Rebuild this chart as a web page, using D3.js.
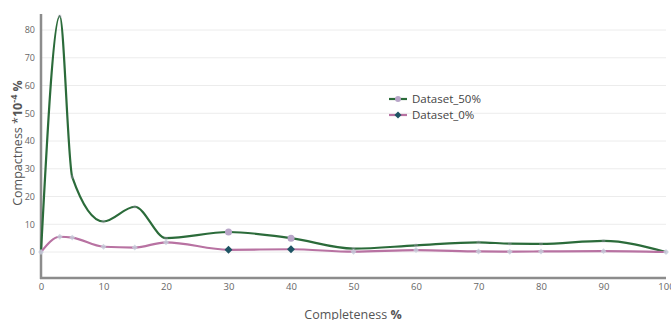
<!DOCTYPE html>
<html><head><meta charset="utf-8">
<script src="https://cdn.jsdelivr.net/npm/d3@7"></script>
<style>
html,body{margin:0;padding:0;background:#fff;}
svg{display:block;font-family:"Open Sans",sans-serif;}
</style></head>
<body>
<script>
const completeness = [0, 3, 5, 10, 15, 20, 30, 40, 50, 60, 70, 75, 80, 90, 100];
const dataset50 = [0, 85, 27, 11, 16.3, 5.0, 7.2, 5.0, 1.2, 2.4, 3.5, 3.0, 2.9, 4.0, 0];
const dataset0 = [0, 5.5, 5.2, 1.9, 1.6, 3.5, 0.8, 1.0, 0.1, 0.7, 0.2, 0.1, 0.2, 0.3, 0];
const highlighted = [30, 40];
const xTicks = [0, 10, 20, 30, 40, 50, 60, 70, 80, 90, 100];
const yTicks = [0, 10, 20, 30, 40, 50, 60, 70, 80];
const seriesNames = ["Dataset_50%", "Dataset_0%"];

const W = 671, H = 320;
const svg = d3.select("body").append("svg").attr("width", W).attr("height", H);

const x = d3.scaleLinear().domain([0, 100]).range([41, 666]);
const y = d3.scaleLinear().domain([0, 80]).range([252, 30]);
const yBottom = y(-9.4), yTop = y(85.8);

// grid
svg.append("g").selectAll("line").data(yTicks).join("line")
  .attr("x1", x(0)).attr("x2", x(100))
  .attr("y1", d => y(d)).attr("y2", d => y(d))
  .attr("stroke", "#ececec").attr("stroke-width", 1);

// y axis
const yAxis = svg.append("g").attr("transform", `translate(${x(0)},0)`)
  .call(d3.axisLeft(y).tickValues(yTicks).tickSize(0).tickPadding(6));
yAxis.select(".domain").remove();
yAxis.selectAll("text").attr("fill", "#666").style("font-size", "9px").style("font-family", "Open Sans");
svg.append("line").attr("x1", x(0)).attr("x2", x(0)).attr("y1", yTop).attr("y2", yBottom + 1)
  .attr("stroke", "#8c8c8c").attr("stroke-width", 2.5);

// x axis
const xAxis = svg.append("g").attr("transform", `translate(0,${yBottom})`)
  .call(d3.axisBottom(x).tickValues(xTicks).tickSize(0).tickPadding(5));
xAxis.select(".domain").remove();
xAxis.selectAll("text").attr("fill", "#666").style("font-size", "9.5px").style("font-family", "Open Sans");
svg.append("line").attr("x1", x(0) - 1).attr("x2", x(100)).attr("y1", yBottom).attr("y2", yBottom)
  .attr("stroke", "#8c8c8c").attr("stroke-width", 2.5);

// axis titles
const yt = svg.append("text").attr("transform", `translate(22,143) rotate(-90)`)
  .attr("text-anchor", "middle").attr("fill", "#555").style("font-size", "12.5px");
yt.append("tspan").text("Compactness *");
yt.append("tspan").attr("font-weight", "bold").text("10");
yt.append("tspan").attr("font-weight", "bold").attr("dy", -5).style("font-size", "9px").text("-4");
yt.append("tspan").attr("font-weight", "bold").attr("dy", 5).text(" %");

const xt = svg.append("text").attr("x", 353).attr("y", 319)
  .attr("text-anchor", "middle").attr("fill", "#555").style("font-size", "12.5px");
xt.append("tspan").text("Completeness ");
xt.append("tspan").attr("font-weight", "bold").text("%");

const line = d3.line().x(d => x(d[0])).y(d => y(d[1])).curve(d3.curveMonotoneX);
const d50 = completeness.map((c, i) => [c, dataset50[i]]);
const d0 = completeness.map((c, i) => [c, dataset0[i]]);

const green = "#2b6b3a", pink = "#b872a2";
svg.append("path").datum(d50).attr("d", line).attr("fill", "none").attr("stroke", green).attr("stroke-width", 2.2);
svg.append("path").datum(d0).attr("d", line).attr("fill", "none").attr("stroke", pink).attr("stroke-width", 2.2);

// markers
svg.append("g").selectAll("circle").data(d50).join("circle")
  .attr("cx", d => x(d[0])).attr("cy", d => y(d[1]))
  .attr("r", d => highlighted.includes(d[0]) ? 3.5 : 2)
  .attr("fill", "#b8a5c8")
  .attr("opacity", d => highlighted.includes(d[0]) ? 1 : 0.3);
const diamond = d3.symbol().type(d3.symbolDiamond2);
svg.append("g").selectAll("path").data(d0).join("path")
  .attr("transform", d => `translate(${x(d[0])},${y(d[1])})`)
  .attr("d", d => diamond.size(highlighted.includes(d[0]) ? 40 : 22)())
  .attr("fill", d => highlighted.includes(d[0]) ? "#1e5464" : "#c6cddb")
  .attr("opacity", d => highlighted.includes(d[0]) ? 1 : 0.8);

// legend
const legend = svg.append("g").attr("transform", "translate(389,99)");
const items = [{ name: seriesNames[0], color: green, sym: "circle", mc: "#b8a5c8" },
               { name: seriesNames[1], color: pink, sym: "diamond", mc: "#1e5464" }];
items.forEach((it, i) => {
  const g = legend.append("g").attr("transform", `translate(0,${i * 16})`);
  g.append("line").attr("x1", 0).attr("x2", 18).attr("y1", 0).attr("y2", 0).attr("stroke", it.color).attr("stroke-width", 2.2);
  if (it.sym === "circle") g.append("circle").attr("cx", 9).attr("cy", 0).attr("r", 3).attr("fill", it.mc);
  else g.append("path").attr("transform", "translate(9,0)").attr("d", d3.symbol().type(d3.symbolDiamond2).size(32)()).attr("fill", it.mc);
  g.append("text").attr("x", 23).attr("y", 0).attr("dy", "0.35em").attr("fill", "#444").style("font-size", "11.5px").text(it.name);
});
</script>
</body></html>
